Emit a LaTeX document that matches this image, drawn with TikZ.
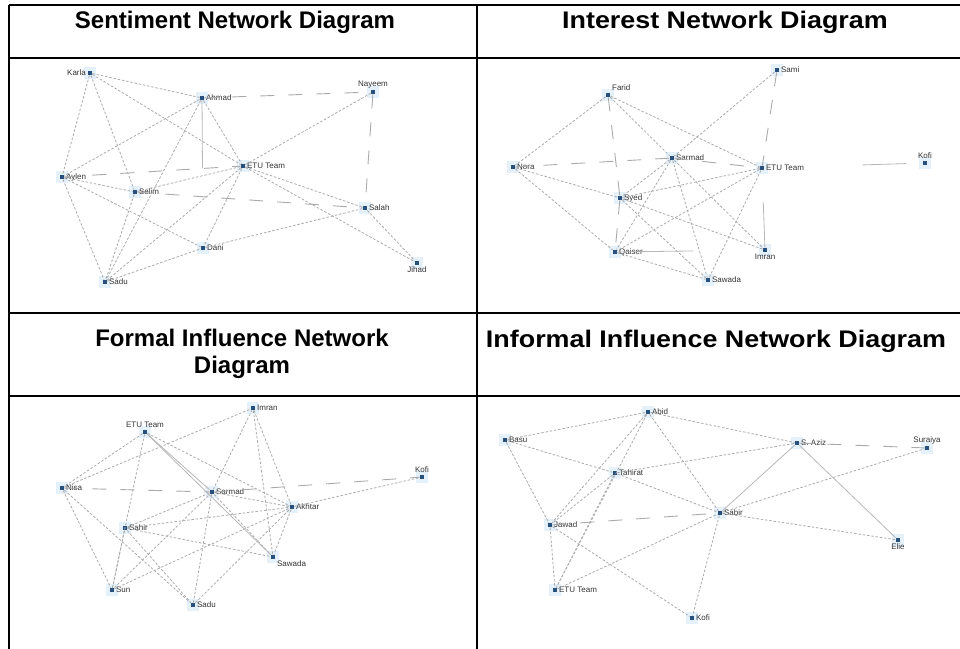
\documentclass[tikz,border=0pt]{standalone}
\usepackage{fontspec}
\setmainfont{Liberation Sans}
\newfontfamily\widesans[FakeStretch=1.12]{Liberation Sans}
\definecolor{nd_blue}{RGB}{40, 80, 125}
\definecolor{nd_glow}{RGB}{228, 240, 250}
\definecolor{ln_gray}{RGB}{170, 170, 170}
\tikzstyle{pn}=[rectangle,fill=nd_blue,inner sep=0pt,minimum size=4.5pt,
  preaction={draw=nd_glow,line width=7pt}]
\tikzstyle{lbl}=[font=\fontsize{8}{9}\selectfont,text=black!80,inner sep=1.5pt]
\tikzstyle{hd}=[font=\fontsize{24}{27}\selectfont\bfseries,align=center]
\tikzstyle{hdw}=[font=\fontsize{24}{27}\selectfont\widesans\bfseries,align=center]
\tikzstyle{dl}=[draw=ln_gray,line width=0.8pt,dash pattern=on 2.5pt off 1.8pt]
\tikzstyle{ll}=[draw=ln_gray,line width=0.9pt,dash pattern=on 14pt off 14pt]
\tikzstyle{sl}=[draw=ln_gray!85,line width=0.8pt]

\begin{document}
\begin{tikzpicture}[x=1pt,y=-1pt]
    \useasboundingbox (0,0) rectangle (960,648);
    \draw [line width=1.3pt] (9,5) -- (961,5);
    \draw [line width=1.3pt] (9,58) -- (961,58);
    \draw [line width=1.3pt] (9,313) -- (961,313);
    \draw [line width=1.3pt] (9,396) -- (961,396);
    \draw [line width=1.3pt] (9,5) -- (9,649);
    \draw [line width=1.3pt] (477,5) -- (477,649);

    \node [style=hd] (hSent) at (235,22) {Sentiment Network Diagram};
    \node [style=hdw] (hInt) at (725,22) {Interest Network Diagram};
    \node [style=hd] (hFormal) at (242,354) {Formal Influence Network\\Diagram};
    \node [style=hdw] (hInformal) at (716,341) {Informal Influence Network Diagram};

    \node [style=pn,label={[lbl]left:Karla}] (sKarla) at (90,73) {};
    \node [style=pn,label={[lbl]right:Ahmad}] (sAhmad) at (202,98) {};
    \node [style=pn,label={[lbl]above:Nayeem}] (sNayeem) at (373,92) {};
    \node [style=pn,label={[lbl]right:ETU Team}] (sETU) at (243,166) {};
    \node [style=pn,label={[lbl]right:Aylen}] (sAylen) at (62,177) {};
    \node [style=pn,label={[lbl]right:Selim}] (sSelim) at (135,192) {};
    \node [style=pn,label={[lbl]right:Dani}] (sDani) at (203,248) {};
    \node [style=pn,label={[lbl]right:Sadu}] (sSadu) at (105,282) {};
    \node [style=pn,label={[lbl]right:Salah}] (sSalah) at (365,208) {};
    \node [style=pn,label={[lbl]below:Jihad}] (sJihad) at (417,263) {};
    \draw [style=dl] (sKarla) to (sAhmad);
    \draw [style=dl] (sKarla) to (sETU);
    \draw [style=dl] (sKarla) to (sAylen);
    \draw [style=dl] (sKarla) to (sSelim);
    \draw [style=dl] (sAhmad) to (sAylen);
    \draw [style=dl] (sAhmad) to (sETU);
    \draw [style=dl] (sAhmad) to (sSadu);
    \draw [style=dl] (sAylen) to (sSelim);
    \draw [style=dl] (sAylen) to (sDani);
    \draw [style=dl] (sAylen) to (sSadu);
    \draw [style=dl] (sSelim) to (sETU);
    \draw [style=dl] (sSelim) to (sSadu);
    \draw [style=dl] (sETU) to (sSadu);
    \draw [style=dl] (sETU) to (sDani);
    \draw [style=dl] (sETU) to (sNayeem);
    \draw [style=dl] (sETU) to (sSalah);
    \draw [style=dl] (sETU) to (sJihad);
    \draw [style=dl] (sSalah) to (sJihad);
    \draw [style=dl] (sDani) to (sSalah);
    \draw [style=dl] (sSadu) to (sDani);
    \draw [style=ll] (sAhmad) to (sNayeem);
    \draw [style=ll] (sAylen) to (sETU);
    \draw [style=ll] (sSelim) to (sSalah);
    \draw [style=ll] (sNayeem) to (sSalah);
    \draw [style=sl,dash pattern=on 68pt off 100pt] (sAhmad) to (sDani);

    \node [style=pn,label={[lbl]above right:Farid}] (iFarid) at (608,95) {};
    \node [style=pn,label={[lbl]right:Sami}] (iSami) at (777,70) {};
    \node [style=pn,label={[lbl]right:Nora}] (iNora) at (513,167) {};
    \node [style=pn,label={[lbl]right:Sarmad}] (iSarmad) at (672,158) {};
    \node [style=pn,label={[lbl]right:ETU Team}] (iETU) at (762,168) {};
    \node [style=pn,label={[lbl]above:Kofi}] (iKofi) at (925,163) {};
    \node [style=pn,label={[lbl]right:Syed}] (iSyed) at (620,198) {};
    \node [style=pn,label={[lbl]right:Qaiser}] (iQaiser) at (615,252) {};
    \node [style=pn,label={[lbl]below:Imran}] (iImran) at (765,250) {};
    \node [style=pn,label={[lbl]right:Sawada}] (iSawada) at (708,280) {};
    \draw [style=dl] (iFarid) to (iNora);
    \draw [style=dl] (iFarid) to (iSarmad);
    \draw [style=dl] (iFarid) to (iETU);
    \draw [style=dl] (iSarmad) to (iImran);
    \draw [style=dl] (iNora) to (iSyed);
    \draw [style=dl] (iNora) to (iQaiser);
    \draw [style=dl] (iSami) to (iSarmad);
    \draw [style=dl] (iETU) to (iSyed);
    \draw [style=dl] (iETU) to (iQaiser);
    \draw [style=dl] (iETU) to (iSawada);
    \draw [style=dl] (iSarmad) to (iSyed);
    \draw [style=dl] (iSarmad) to (iQaiser);
    \draw [style=dl] (iSarmad) to (iSawada);
    \draw [style=dl] (iSyed) to (iImran);
    \draw [style=dl] (iSyed) to (iSawada);
    \draw [style=dl] (iQaiser) to (iSawada);
    \draw [style=ll] (iFarid) to (iSyed);
    \draw [style=ll] (iSyed) to (iQaiser);
    \draw [style=ll] (iNora) to (iSarmad);
    \draw [style=ll] (iSarmad) to (iETU);
    \draw [style=ll] (iSami) to (iETU);
    \draw [style=sl,dash pattern=on 0pt off 98pt on 44pt off 40pt] (iETU) to (iKofi);
    \draw [style=sl,dash pattern=on 0pt off 32pt on 60pt] (iETU) to (iImran);
    \draw [style=sl,dash pattern=on 76pt off 100pt] (iQaiser) to (iImran);

    \node [style=pn,label={[lbl]above:ETU Team}] (fETU) at (145,432) {};
    \node [style=pn,label={[lbl]right:Imran}] (fImran) at (253,408) {};
    \node [style=pn,label={[lbl]right:Nisa}] (fNisa) at (62,488) {};
    \node [style=pn,label={[lbl]right:Sarmad}] (fSarmad) at (212,492) {};
    \node [style=pn,label={[lbl]above:Kofi}] (fKofi) at (422,477) {};
    \node [style=pn,label={[lbl]right:Akhtar}] (fAkhtar) at (292,507) {};
    \node [style=pn,label={[lbl]right:Sahir}] (fSahir) at (125,528) {};
    \node [style=pn,label={[lbl]below right:Sawada}] (fSawada) at (273,557) {};
    \node [style=pn,label={[lbl]right:Sun}] (fSun) at (112,590) {};
    \node [style=pn,label={[lbl]right:Sadu}] (fSadu) at (193,605) {};
    \draw [style=dl] (fETU) to (fNisa);
    \draw [style=dl] (fETU) to (fSun);
    \draw [style=dl] (fETU) to (fAkhtar);
    \draw [style=dl] (fNisa) to (fImran);
    \draw [style=dl] (fNisa) to (fSun);
    \draw [style=dl] (fNisa) to (fSadu);
    \draw [style=dl] (fSahir) to (fSarmad);
    \draw [style=dl] (fSahir) to (fAkhtar);
    \draw [style=dl] (fSahir) to (fSawada);
    \draw [style=dl] (fSahir) to (fSadu);
    \draw [style=dl] (fSun) to (fSarmad);
    \draw [style=dl] (fSun) to (fAkhtar);
    \draw [style=dl] (fSun) to (fSahir);
    \draw [style=dl] (fSadu) to (fSarmad);
    \draw [style=dl] (fSadu) to (fAkhtar);
    \draw [style=dl] (fSarmad) to (fImran);
    \draw [style=dl] (fSarmad) to (fSawada);
    \draw [style=dl] (fSarmad) to (fAkhtar);
    \draw [style=dl] (fAkhtar) to (fKofi);
    \draw [style=dl] (fImran) to (fAkhtar);
    \draw [style=dl] (fImran) to (fSawada);
    \draw [style=dl] (fAkhtar) to (fSawada);
    \draw [style=sl] (fETU) to (fSarmad);
    \draw [style=sl] (fETU) to (fSawada);
    \draw [style=ll] (fNisa) to (fSarmad);
    \draw [style=ll] (fSarmad) to (fKofi);

    \node [style=pn,label={[lbl]right:Abid}] (nAbid) at (648,412) {};
    \node [style=pn,label={[lbl]right:Basu}] (nBasu) at (505,440) {};
    \node [style=pn,label={[lbl]right:Tahirat}] (nTahirat) at (615,473) {};
    \node [style=pn,label={[lbl]right:Jawad}] (nJawad) at (550,525) {};
    \node [style=pn,label={[lbl]right:ETU Team}] (nETU) at (555,590) {};
    \node [style=pn,label={[lbl]right:Kofi}] (nKofi) at (692,618) {};
    \node [style=pn,label={[lbl]right:Sabir}] (nSabir) at (720,513) {};
    \node [style=pn,label={[lbl]right:S. Aziz}] (nAziz) at (797,443) {};
    \node [style=pn,label={[lbl]above:Suraiya}] (nSuraiya) at (927,448) {};
    \node [style=pn,label={[lbl]below:Elie}] (nElie) at (898,540) {};
    \draw [style=dl] (nBasu) to (nAbid);
    \draw [style=dl] (nBasu) to (nTahirat);
    \draw [style=dl] (nBasu) to (nJawad);
    \draw [style=dl] (nAbid) to (nJawad);
    \draw [style=dl] (nAbid) to (nETU);
    \draw [style=dl] (nAbid) to (nSabir);
    \draw [style=dl] (nAbid) to (nAziz);
    \draw [style=dl] (nTahirat) to (nSabir);
    \draw [style=dl] (nTahirat) to (nAziz);
    \draw [style=dl] (nTahirat) to (nJawad);
    \draw [style=dl] (nTahirat) to (nETU);
    \draw [style=dl] (nJawad) to (nETU);
    \draw [style=dl] (nJawad) to (nKofi);
    \draw [style=dl] (nETU) to (nSabir);
    \draw [style=dl] (nSabir) to (nKofi);
    \draw [style=dl] (nSabir) to (nSuraiya);
    \draw [style=dl] (nSabir) to (nElie);
    \draw [style=sl] (nSabir) to (nAziz);
    \draw [style=sl] (nAziz) to (nElie);
    \draw [style=ll] (nJawad) to (nSabir);
    \draw [style=ll] (nAziz) to (nSuraiya);
\end{tikzpicture}
\end{document}
